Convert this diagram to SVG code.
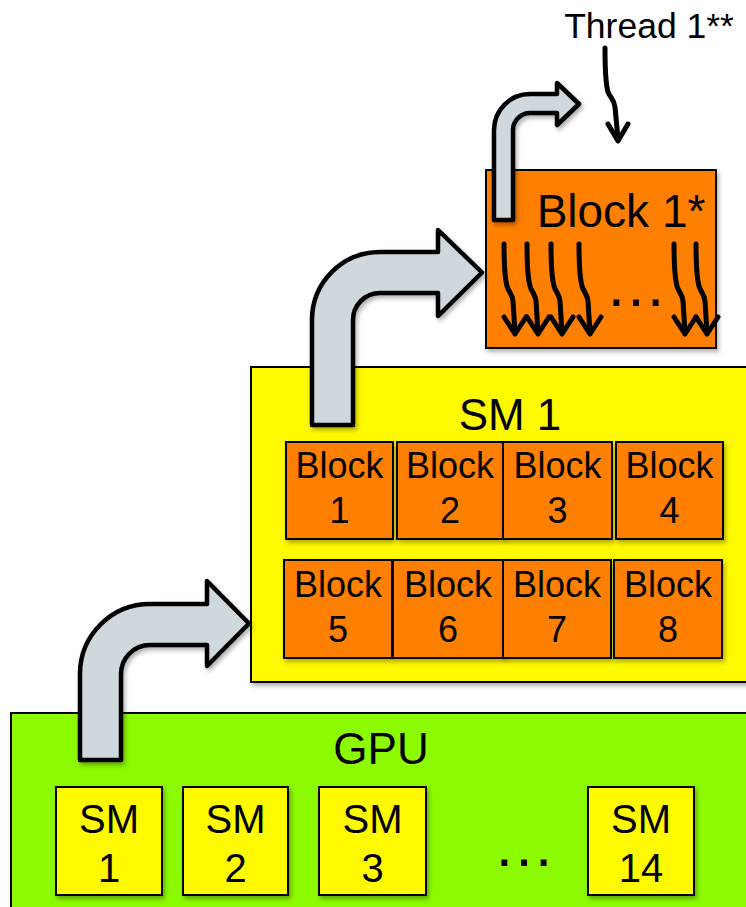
<svg xmlns="http://www.w3.org/2000/svg" xmlns:xlink="http://www.w3.org/1999/xlink" width="746" height="907" viewBox="0 0 746 907">
<style>
text{font-family:"Liberation Sans",Arial,sans-serif;fill:#000;text-anchor:middle}
.box{stroke:#000;stroke-width:2;filter:url(#sh)}
.gpu{fill:#8CFA00}
.sm{fill:#FFFA00}
.blk{fill:#FF7F00}
.arrow{fill:#CFD8DD;stroke:#000;stroke-width:4.5;stroke-linejoin:round;filter:url(#sh)}
.thr{fill:none;stroke:#000;stroke-width:5;stroke-linecap:round;stroke-linejoin:round}
.t36{font-size:36px}
.t40{font-size:40px}
.t44{font-size:44px}
</style>
<defs>
<filter id="sh" x="-10%" y="-10%" width="130%" height="130%">
<feDropShadow dx="2" dy="3" stdDeviation="2" flood-color="#000" flood-opacity="0.3"/>
</filter>
<g id="thread">
<path class="thr" d="M0,0 C0,22 1,35 3,42 C5,49 8,49 9,57 L11,89"/>
<path class="thr" d="M0,73 L11,90 L22,73"/>
</g>
</defs>
<rect width="746" height="907" fill="#fff"/>

<g id="gpu">
<rect class="box gpu" x="11" y="713" width="750" height="200"/>
<text class="t44" x="381" y="764">GPU</text>
<text x="524" y="866" style="font-size:62px">…</text>
</g>
<g id="gpu-sm1">
<rect class="box sm" x="56" y="787" width="106" height="108"/>
<text class="t40" x="109" y="833">SM</text>
<text class="t40" x="109" y="882">1</text>
</g>
<g id="gpu-sm2">
<rect class="box sm" x="183" y="787" width="105" height="108"/>
<text class="t40" x="235.5" y="833">SM</text>
<text class="t40" x="235.5" y="882">2</text>
</g>
<g id="gpu-sm3">
<rect class="box sm" x="319" y="787" width="107" height="108"/>
<text class="t40" x="372.5" y="833">SM</text>
<text class="t40" x="372.5" y="882">3</text>
</g>
<g id="gpu-sm14">
<rect class="box sm" x="588" y="787" width="106" height="108"/>
<text class="t40" x="641" y="833">SM</text>
<text class="t40" x="641" y="882">14</text>
</g>

<g id="sm1">
<rect class="box sm" x="251" y="367" width="510" height="315"/>
<text class="t44" x="510" y="430">SM 1</text>
</g>
<g id="block1">
<rect class="box blk" x="286" y="442" width="107" height="97"/>
<text class="t36" x="339.5" y="478">Block</text>
<text class="t36" x="339.5" y="523">1</text>
</g>
<g id="block2">
<rect class="box blk" x="397" y="442" width="106" height="97"/>
<text class="t36" x="450" y="478">Block</text>
<text class="t36" x="450" y="523">2</text>
</g>
<g id="block3">
<rect class="box blk" x="503" y="442" width="109" height="97"/>
<text class="t36" x="557.5" y="478">Block</text>
<text class="t36" x="557.5" y="523">3</text>
</g>
<g id="block4">
<rect class="box blk" x="616" y="442" width="107" height="97"/>
<text class="t36" x="669.5" y="478">Block</text>
<text class="t36" x="669.5" y="523">4</text>
</g>
<g id="block5">
<rect class="box blk" x="284" y="560" width="108" height="98"/>
<text class="t36" x="338" y="597">Block</text>
<text class="t36" x="338" y="642">5</text>
</g>
<g id="block6">
<rect class="box blk" x="393" y="560" width="110" height="98"/>
<text class="t36" x="448" y="597">Block</text>
<text class="t36" x="448" y="642">6</text>
</g>
<g id="block7">
<rect class="box blk" x="503" y="560" width="108" height="98"/>
<text class="t36" x="557" y="597">Block</text>
<text class="t36" x="557" y="642">7</text>
</g>
<g id="block8">
<rect class="box blk" x="614" y="560" width="108" height="98"/>
<text class="t36" x="668" y="597">Block</text>
<text class="t36" x="668" y="642">8</text>
</g>

<g id="block1star">
<rect class="box blk" x="486" y="170" width="230" height="178"/>
<text x="621" y="227" style="font-size:46px">Block 1*</text>
<use xlink:href="#thread" x="504" y="244"/>
<use xlink:href="#thread" x="527" y="244"/>
<use xlink:href="#thread" x="551" y="244"/>
<use xlink:href="#thread" x="579" y="244"/>
<use xlink:href="#thread" x="674" y="244"/>
<use xlink:href="#thread" x="696" y="244"/>
<text x="636" y="306" style="font-size:62px">…</text>
</g>

<g id="thread-label">
<text x="649" y="38" style="font-size:35.5px">Thread 1**</text>
</g>

<g id="connectors">
<path class="arrow" d="M80,760 L80,674 A70,70 0 0 1 150,604 L207,604 L207,581 L249,623.5 L207,666 L207,645 L150,645 A29,29 0 0 0 121,674 L121,760 Z"/>
<path class="arrow" d="M312,425 L312,320 A68,68 0 0 1 380,252 L438,252 L438,230 L482,272.5 L438,316 L438,293 L380,293 A27,27 0 0 0 353,320 L353,425 Z"/>
<path class="arrow" d="M494,220 L494,130 A36,36 0 0 1 530,94 L557,94 L557,83 L579,104 L557,125 L557,113 L530,113 A17,17 0 0 0 513,130 L513,220 Z"/>
<path class="thr" d="M605,48 C605,70 606,85 608,92 C611,99 614,99 615,107 L618,139"/>
<path class="thr" d="M608,124 L618,141 L628,124"/>
</g>
</svg>
